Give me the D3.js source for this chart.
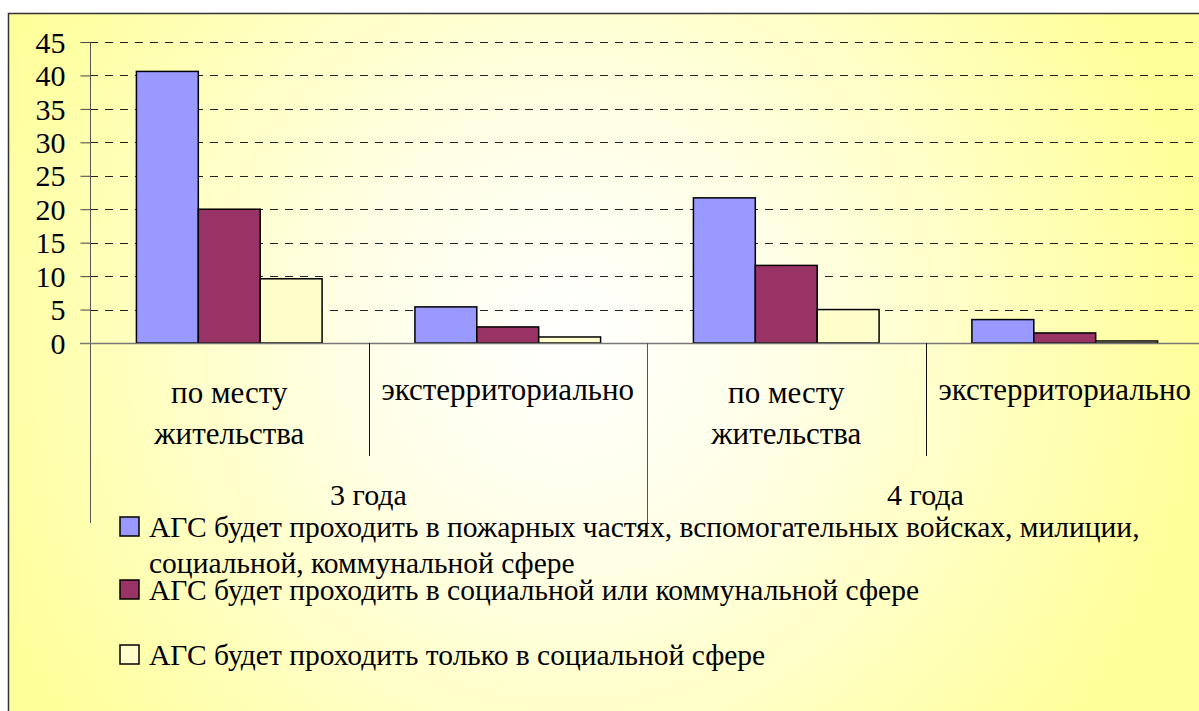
<!DOCTYPE html>
<html>
<head>
<meta charset="utf-8">
<script src="https://cdn.jsdelivr.net/npm/d3@7"></script>
</head>
<body style="margin:0">
<script>
// categories (inner level) and outer groups
var categories = [["по месту", "жительства"], ["экстерриториально"], ["по месту", "жительства"], ["экстерриториально"]];
var groups = ["3 года", "4 года"];

// series
var seriesNames = [
  ["АГС будет проходить в пожарных частях, вспомогательных войсках, милиции,", "социальной, коммунальной сфере"],
  ["АГС будет проходить в социальной или коммунальной сфере"],
  ["АГС будет проходить только в социальной сфере"]
];
var seriesColors = ["#9999FF", "#993366", "#FFFFCC"];
var s1 = [40.6, 5.4, 21.7, 3.5];
var s2 = [20.0, 2.4, 11.6, 1.5];
var s3 = [9.6, 0.9, 5.0, 0.3];
var seriesValues = [s1, s2, s3];

var yTicks = [0, 5, 10, 15, 20, 25, 30, 35, 40, 45];

var width = 1199, height = 711;
var serif = "'Liberation Serif', 'Times New Roman', serif";

var svg = d3.select('body').append('svg')
  .attr('width', width)
  .attr('height', height)
  .style('font-family', serif, 'important');

// background gradient
var defs = svg.append('defs');
var grad = defs.append('radialGradient')
  .attr('id', 'bg')
  .attr('gradientUnits', 'userSpaceOnUse')
  .attr('cx', 570).attr('cy', 340).attr('r', 640);
grad.append('stop').attr('offset', '0').attr('stop-color', '#FFFFFF');
grad.append('stop').attr('offset', '0.35').attr('stop-color', '#FFFFE6');
grad.append('stop').attr('offset', '1').attr('stop-color', '#FFFF99');

svg.append('rect')
  .attr('x', 8.5).attr('y', 13.5)
  .attr('width', 1300).attr('height', 800)
  .attr('fill', 'url(#bg)')
  .attr('stroke', '#333')
  .attr('stroke-width', 1.5);

//scales
var x0 = d3.scaleBand()
  .domain(d3.range(categories.length))
  .range([90, 1204])
  .paddingInner(0).paddingOuter(0);

var x1 = d3.scaleBand()
  .domain(d3.range(seriesValues.length))
  .range([0, x0.bandwidth()])
  .paddingInner(0).paddingOuter(0.75);

var y = d3.scaleLinear().domain([0, 45]).range([343, 42]);

// gridlines (dashed)
svg.append('g').selectAll('line')
  .data(yTicks.filter(d => d > 0))
  .enter().append('line')
  .attr('x1', 90).attr('x2', width)
  .attr('y1', d => Math.round(y(d)) + 0.5)
  .attr('y2', d => Math.round(y(d)) + 0.5)
  .attr('stroke', '#222')
  .attr('stroke-width', 1)
  .attr('stroke-dasharray', '8,7');

// y axis
var yAxis = d3.axisLeft(y).tickValues(yTicks).tickSize(10).tickPadding(15);
var gy = svg.append('g')
  .attr('transform', 'translate(90.5,0)')
  .call(yAxis)
  .attr('font-family', null);
gy.select('.domain').remove();
gy.selectAll('.tick line').attr('stroke', '#444');
gy.selectAll('.tick text')
  .attr('dy', '0.34em')
  .attr('fill', '#000')
  .style('font-size', '30px', 'important')
  .style('font-family', serif, 'important');

// axis line
svg.append('line')
  .attr('x1', 90.5).attr('x2', 90.5)
  .attr('y1', y(45)).attr('y2', 523)
  .attr('stroke', '#555').attr('stroke-width', 1);

// bars
var gBars = svg.append('g');
seriesValues.forEach(function(vals, si) {
  gBars.selectAll('rect.s' + si)
    .data(vals)
    .enter().append('rect')
    .attr('x', (d, i) => x0(i) + x1(si))
    .attr('y', d => y(d))
    .attr('width', x1.bandwidth())
    .attr('height', d => y(0) - y(d))
    .attr('fill', seriesColors[si])
    .attr('stroke', '#000')
    .attr('stroke-width', 1.5);
});

// zero line
svg.append('line')
  .attr('x1', 80).attr('x2', width)
  .attr('y1', 343.5).attr('y2', 343.5)
  .attr('stroke', '#777').attr('stroke-width', 1.5);

// separators between categories
svg.selectAll('line.sep')
  .data(d3.range(1, categories.length))
  .enter().append('line')
  .attr('x1', d => Math.round(x0(d)) + 0.5)
  .attr('x2', d => Math.round(x0(d)) + 0.5)
  .attr('y1', 343)
  .attr('y2', d => d % 2 === 0 ? 523 : 456)
  .attr('stroke', d => d % 2 === 0 ? '#555' : '#111')
  .attr('stroke-width', 1);

// category labels
var catLabels = svg.append('g');
categories.forEach(function(lines, i) {
  var cx = x0(i) + x0.bandwidth() / 2;
  lines.forEach(function(line, li) {
    catLabels.append('text')
      .attr('x', cx)
      .attr('y', (lines.length > 1 ? 403 : 400) + li * 41)
      .attr('text-anchor', 'middle')
      .style('font-size', '31px', 'important')
      .style('font-family', serif, 'important')
      .text(line);
  });
});

// group labels
groups.forEach(function(g, gi) {
  var cx = (x0(gi * 2) + x0(gi * 2 + 1) + x0.bandwidth()) / 2;
  svg.append('text')
    .attr('x', cx)
    .attr('y', 505)
    .attr('text-anchor', 'middle')
    .style('font-size', '30px', 'important')
    .style('font-family', serif, 'important')
    .text(g);
});

// legend
var legendY = [527, 590, 655];
var legend = svg.append('g');
seriesNames.forEach(function(lines, si) {
  legend.append('rect')
    .attr('x', 120).attr('y', legendY[si] - 10)
    .attr('width', 19).attr('height', 19)
    .attr('fill', seriesColors[si])
    .attr('stroke', '#000')
    .attr('stroke-width', 1.5);
  lines.forEach(function(line, li) {
    legend.append('text')
      .attr('x', 149)
      .attr('y', legendY[si] + 10 + li * 36)
      .style('font-size', '29.5px', 'important')
      .style('font-family', serif, 'important')
      .text(line);
  });
});
</script>
</body>
</html>
